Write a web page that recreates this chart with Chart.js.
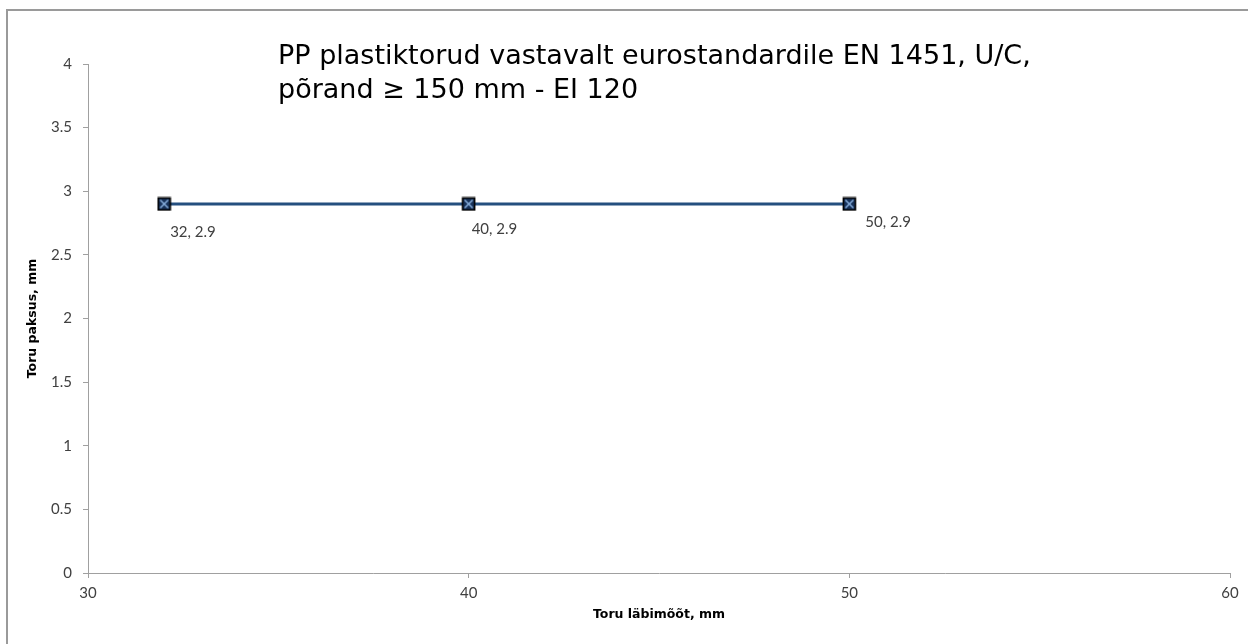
<!DOCTYPE html>
<html>
<head>
<meta charset="utf-8">
<script src="https://cdn.jsdelivr.net/npm/chart.js@4"></script>
<style>
  html, body { margin: 0; padding: 0; background: #ffffff; }
  #wrap { position: relative; width: 1248px; height: 644px; overflow: hidden; background: #fff; }
  #frame { position: absolute; left: 6px; top: 9px; width: 1300px; height: 700px;
           border-left: 2px solid #9a9a9a; border-top: 2px solid #9a9a9a; pointer-events: none; }
  canvas { position: absolute; left: 0; top: 0; }
</style>
</head>
<body>
<div id="wrap">
  <canvas id="c" width="1248" height="644"></canvas>
  <div id="frame"></div>
</div>
<script>
// ---- data ----
const diameters = [32, 40, 50];          // Toru läbimõõt, mm
const thickness = [2.9, 2.9, 2.9];       // Toru paksus, mm
const xTicks = [30, 40, 50, 60];
const yTicks = [0, 0.5, 1, 1.5, 2, 2.5, 3, 3.5, 4];
const titleLines = ['PP plastiktorud vastavalt eurostandardile EN 1451, U/C,', 'põrand \u2265 150 mm - EI 120'];
const xTitle = 'Toru läbimõõt, mm';
const yTitle = 'Toru paksus, mm';

// ---- style ----
const labelOffsets = [[6, 28], [3, 25], [16, 18]];
const axisColor = '#a0a0a0';
const textColor = '#404040';

// custom marker: square with an X
function makeMarker() {
  const s = 15;
  const m = document.createElement('canvas');
  m.width = s; m.height = s;
  const g = m.getContext('2d');
  g.fillStyle = '#17325a';
  g.fillRect(1, 1, s - 2, s - 2);
  g.strokeStyle = '#000';
  g.lineWidth = 1.6;
  g.strokeRect(1.5, 1.5, s - 3, s - 3);
  g.strokeStyle = '#8db4e2';
  g.lineWidth = 1.4;
  g.beginPath();
  g.moveTo(3.5, 3.5); g.lineTo(s - 3.5, s - 3.5);
  g.moveTo(s - 3.5, 3.5); g.lineTo(3.5, s - 3.5);
  g.stroke();
  return m;
}
const marker = makeMarker();

const overlay = {
  id: 'overlay',
  afterDatasetsDraw(chart) {
    const ctx = chart.ctx;
    const xs = chart.scales.x, ys = chart.scales.y;
    ctx.save();
    // data labels
    ctx.font = '15px Lato, "Open Sans", sans-serif';
    ctx.fillStyle = textColor;
    ctx.textAlign = 'left';
    ctx.textBaseline = 'middle';
    diameters.forEach((d, i) => {
      const px = xs.getPixelForValue(d), py = ys.getPixelForValue(thickness[i]);
      ctx.fillText(d + ', ' + thickness[i], px + labelOffsets[i][0], py + labelOffsets[i][1]);
    });
    // title
    ctx.font = '27px "DejaVu Sans", Verdana, sans-serif';
    ctx.fillStyle = '#000';
    ctx.textBaseline = 'alphabetic';
    ctx.fillText(titleLines[0], 278, 64);
    ctx.fillText(titleLines[1], 278, 98);
    ctx.restore();
  }
};

new Chart(document.getElementById('c'), {
  type: 'scatter',
  data: {
    datasets: [{
      data: diameters.map((d, i) => ({ x: d, y: thickness[i] })),
      showLine: true,
      borderColor: '#254f7f',
      borderWidth: 3,
      pointStyle: marker,
      pointRadius: 7,
      pointHoverRadius: 7,
      backgroundColor: '#17325a'
    }]
  },
  options: {
    responsive: false,
    animation: false,
    events: [],
    layout: { padding: { left: 0, right: 18, top: 64, bottom: 0 }, autoPadding: false },
    plugins: { legend: { display: false }, tooltip: { enabled: false }, title: { display: false } },
    scales: {
      x: {
        type: 'linear',
        min: 30, max: 60,
        afterBuildTicks: s => { s.ticks = xTicks.map(v => ({ value: v })); },
        afterFit: s => { s.height = 71; },
        grid: { drawOnChartArea: false, drawTicks: true, tickLength: 5, color: axisColor },
        border: { color: axisColor, width: 1 },
        ticks: { color: textColor, font: { family: 'Lato, "Open Sans", sans-serif', size: 15 }, padding: 6, maxRotation: 0,
                 callback: v => String(v) },
        title: { display: true, text: xTitle, color: '#000',
                 font: { family: '"DejaVu Sans", Verdana, sans-serif', size: 12.5, weight: 'bold' },
                 padding: { top: 0, bottom: 22 } }
      },
      y: {
        type: 'linear',
        min: 0, max: 4,
        afterBuildTicks: s => { s.ticks = yTicks.map(v => ({ value: v })); },
        afterFit: s => { s.width = 88; },
        grid: { drawOnChartArea: false, drawTicks: true, tickLength: 5, color: axisColor },
        border: { color: axisColor, width: 1 },
        ticks: { color: textColor, font: { family: 'Lato, "Open Sans", sans-serif', size: 15 }, padding: 11,
                 callback: v => String(v) },
        title: { display: true, text: yTitle, color: '#000',
                 font: { family: '"DejaVu Sans", Verdana, sans-serif', size: 12.5, weight: 'bold' },
                 padding: { top: 25, bottom: 0 } }
      }
    }
  },
  plugins: [overlay]
});
</script>
</body>
</html>
